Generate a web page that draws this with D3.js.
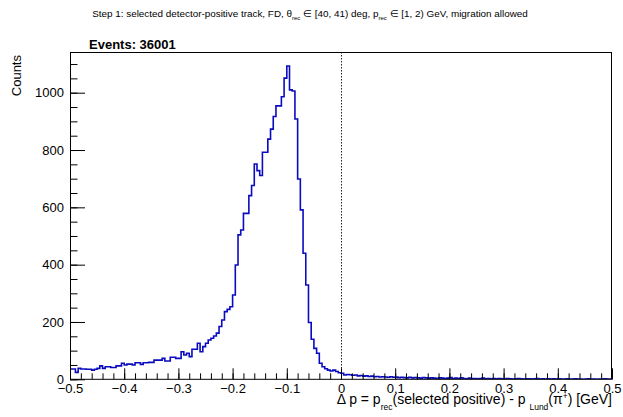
<!DOCTYPE html>
<html>
<head>
<meta charset="utf-8">
<script src="https://cdn.jsdelivr.net/npm/d3@7"></script>
<style>
  html, body { margin: 0; padding: 0; background: #fff; }
  svg { display: block; }
  text { font-family: "Liberation Sans", Arial, Helvetica, sans-serif; fill: #000; }
</style>
</head>
<body>
<svg id="chart" width="623" height="417"></svg>
<script>
// ---- data ----
const xRange = [-0.5, 0.5];           // histogram axis range [GeV]
const binCount = 200;                  // number of bins
const counts = [
  36, 36, 24, 38, 36, 36, 35, 35, 32, 35,
  38, 47, 38, 44, 44, 41, 41, 47, 47, 56,
  50, 53, 53, 50, 58, 58, 52, 58, 58, 59,
  59, 67, 67, 67, 73, 64, 64, 77, 77, 73,
  73, 96, 85, 91, 79, 105, 105, 126, 96, 114,
  126, 137, 143, 151, 161, 184, 207, 236, 244, 253,
  294, 399, 504, 521, 579, 579, 641, 676, 751, 728,
  711, 792, 792, 838, 873, 917, 954, 954, 986, 1051,
  1093, 1010, 1006, 908, 699, 591, 440, 329, 198, 140,
  108, 91, 56, 44, 37, 32, 29, 32, 27, 23,
  21, 15, 17, 16, 14, 15, 12, 13, 11, 12,
  10, 11, 9, 10, 8, 9, 8, 7, 9, 7,
  8, 6, 7, 6, 5, 7, 5, 6, 5, 4,
  6, 5, 4, 5, 4, 3, 5, 4, 3, 4,
  6, 3, 4, 3, 5, 3, 2, 4, 3, 3,
  2, 3, 4, 2, 3, 2, 3, 2, 3, 2,
  2, 3, 2, 1, 2, 3, 2, 1, 2, 2,
  1, 2, 3, 1, 2, 1, 2, 1, 2, 1,
  2, 1, 1, 2, 1, 1, 2, 1, 1, 0,
  1, 2, 1, 1, 0, 1, 1, 2, 1, 1
];
const yMax = 1142;
const xMajorTicks = [-0.5, -0.4, -0.3, -0.2, -0.1, 0, 0.1, 0.2, 0.3, 0.4, 0.5];
const xMinorTicks = [-0.5, -0.48, -0.46, -0.44, -0.42, -0.4, -0.38, -0.36, -0.34, -0.32, -0.3, -0.28, -0.26, -0.24, -0.22, -0.2, -0.18, -0.16, -0.14, -0.12, -0.1, -0.08, -0.06, -0.04, -0.02, 0, 0.02, 0.04, 0.06, 0.08, 0.1, 0.12, 0.14, 0.16, 0.18, 0.2, 0.22, 0.24, 0.26, 0.28, 0.3, 0.32, 0.34, 0.36, 0.38, 0.4, 0.42, 0.44, 0.46, 0.48, 0.5];
const yMajorTicks = [0, 200, 400, 600, 800, 1000];
const yMinorTicks = [0, 50, 100, 150, 200, 250, 300, 350, 400, 450, 500, 550, 600, 650, 700, 750, 800, 850, 900, 950, 1000, 1050, 1100];
const markerLine = 0;                  // dotted reference line at Δp = 0
const eventsLabel = "Events: 36001";

// ---- layout ----
const plot = { left: 70, right: 612, top: 52, bottom: 379.3 };
const svg = d3.select("#chart");
svg.append("rect").attr("width", 623).attr("height", 417).attr("fill", "#fff");

const x = d3.scaleLinear().domain(xRange).range([plot.left, plot.right]);
const y = d3.scaleLinear().domain([0, yMax]).range([plot.bottom, plot.top]);

// title
const title = svg.append("text")
  .attr("x", 310).attr("y", 17)
  .attr("text-anchor", "middle")
  .style("font-size", "9.9px");
title.append("tspan").text("Step 1: selected detector-positive track, FD, \u03b8");
title.append("tspan").attr("dy", 2.5).style("font-size", "6px").text("rec");
title.append("tspan").attr("dy", -2.5).text(" \u2208 [40, 41) deg, p");
title.append("tspan").attr("dy", 2.5).style("font-size", "6px").text("rec");
title.append("tspan").attr("dy", -2.5).text(" \u2208 [1, 2) GeV, migration allowed");

// histogram
const binW = (xRange[1] - xRange[0]) / binCount;
const pts = counts.map((v, i) => [xRange[0] + i * binW, v]);
pts.push([xRange[1], counts[counts.length - 1]]);

svg.append("clipPath").attr("id", "clip")
  .append("rect").attr("x", plot.left).attr("y", plot.top)
  .attr("width", plot.right - plot.left).attr("height", plot.bottom - plot.top);

svg.append("path")
  .datum(pts)
  .attr("clip-path", "url(#clip)")
  .attr("fill", "none")
  .attr("stroke", "#0a0ac0")
  .attr("stroke-width", 1.6)
  .attr("d", d3.line().x(d => x(d[0])).y(d => y(d[1])).curve(d3.curveStepAfter));

// dotted line at 0
svg.append("line")
  .attr("x1", x(markerLine) + 0.5).attr("x2", x(markerLine) + 0.5)
  .attr("y1", plot.top).attr("y2", plot.bottom)
  .attr("stroke", "#222").attr("stroke-width", 1)
  .attr("stroke-dasharray", "1.5,1.5");

// axes
const fmtX = d => d === 0 ? "0" : d3.format(".1f")(d);
const gx = svg.append("g").attr("transform", `translate(0,${plot.bottom})`);
gx.call(d3.axisBottom(x).tickValues(xMinorTicks).tickSizeInner(-6).tickSizeOuter(0).tickFormat(""));
gx.call(g => g.select(".domain").remove());
const gx2 = svg.append("g").attr("transform", `translate(0,${plot.bottom})`);
gx2.call(d3.axisBottom(x).tickValues(xMajorTicks).tickSizeInner(-11).tickSizeOuter(0).tickPadding(4).tickFormat(fmtX));
gx2.call(g => g.select(".domain").remove());
gx2.selectAll("text").style("font-size", "13px");

const gy = svg.append("g").attr("transform", `translate(${plot.left},0)`);
gy.call(d3.axisLeft(y).tickValues(yMinorTicks).tickSizeInner(-7.5).tickSizeOuter(0).tickFormat(""));
gy.call(g => g.select(".domain").remove());
const gy2 = svg.append("g").attr("transform", `translate(${plot.left},0)`);
gy2.call(d3.axisLeft(y).tickValues(yMajorTicks).tickSizeInner(-15).tickSizeOuter(0).tickPadding(6).tickFormat(d3.format("d")));
gy2.call(g => g.select(".domain").remove());
gy2.selectAll("text").style("font-size", "13px");

svg.selectAll(".tick line").attr("stroke", "#000").attr("stroke-width", 1);

// frame
svg.append("rect")
  .attr("x", plot.left + 0.5).attr("y", plot.top + 0.5)
  .attr("width", plot.right - plot.left - 1).attr("height", plot.bottom - plot.top - 0.5)
  .attr("fill", "none").attr("stroke", "#000").attr("stroke-width", 1);

// y title
svg.append("text")
  .attr("transform", `translate(21,${plot.top + 3}) rotate(-90)`)
  .attr("text-anchor", "end")
  .style("font-size", "13px")
  .text("Counts");

// x title
const xt = svg.append("text")
  .attr("x", plot.right).attr("y", 404)
  .attr("text-anchor", "end")
  .style("font-size", "14px");
xt.append("tspan").text("\u0394 p = p");
xt.append("tspan").attr("dy", 6).style("font-size", "8.5px").text("rec");
xt.append("tspan").attr("dy", -6).text("(selected positive) - p ");
xt.append("tspan").attr("dy", 6).style("font-size", "8.5px").text("Lund");
xt.append("tspan").attr("dy", -6).text("(\u03c0");
xt.append("tspan").attr("dy", -5).style("font-size", "8.5px").text("+");
xt.append("tspan").attr("dy", 5).text(") [GeV]");

// events label
svg.append("text")
  .attr("x", 89).attr("y", 49)
  .style("font-size", "13px").style("font-weight", "bold")
  .text(eventsLabel);
</script>
</body>
</html>
